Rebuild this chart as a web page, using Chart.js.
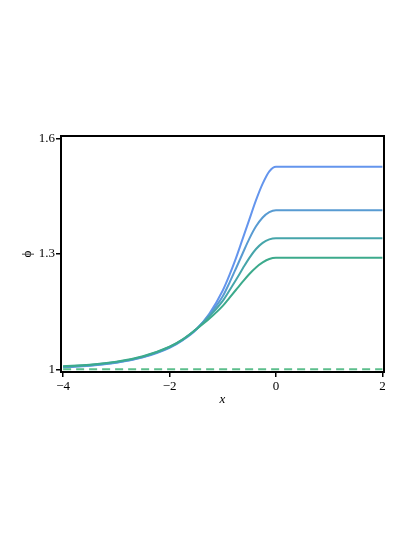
<!DOCTYPE html>
<html lang="en">
<head>
    <meta charset="UTF-8">
    <title>phi(x)</title>
    <script src="https://cdn.jsdelivr.net/npm/chart.js"></script>
    <style>
        body { margin: 0; background: #fff; }
        canvas { display: block; }
    </style>
</head>
<body>
    <canvas id="phiChart" width="415" height="537"></canvas>

    <script>
        const xs = [-4, -3.5, -3, -2.5, -2, -1.75, -1.5, -1.25, -1, -0.875, -0.75, -0.625, -0.5, -0.375, -0.25, -0.125, 0, 0.5, 1, 1.5, 2];

        // four solution curves, top to bottom
        const phiA = [1.005, 1.009, 1.017, 1.031, 1.056, 1.076, 1.103, 1.145, 1.205, 1.245, 1.290, 1.340, 1.390, 1.440, 1.483, 1.515, 1.527, 1.527, 1.527, 1.527, 1.527];
        const phiB = [1.006, 1.010, 1.018, 1.032, 1.057, 1.077, 1.104, 1.142, 1.190, 1.225, 1.263, 1.302, 1.340, 1.372, 1.395, 1.409, 1.414, 1.414, 1.414, 1.414, 1.414];
        const phiC = [1.007, 1.011, 1.019, 1.033, 1.058, 1.078, 1.104, 1.138, 1.178, 1.205, 1.233, 1.262, 1.290, 1.313, 1.329, 1.338, 1.341, 1.341, 1.341, 1.341, 1.341];
        const phiD = [1.008, 1.012, 1.020, 1.034, 1.059, 1.078, 1.104, 1.132, 1.165, 1.186, 1.207, 1.228, 1.248, 1.265, 1.278, 1.287, 1.290, 1.290, 1.290, 1.290, 1.290];

        // dashed reference level
        const baseX = [-4, 2];
        const baseY = [1, 1];

        const xTicks = [-4, -2, 0, 2];
        const yTicks = [1, 1.3, 1.6];

        function pts(xv, yv) {
            return xv.map((x, i) => ({ x: x, y: yv[i] }));
        }

        function curve(yv, color) {
            return {
                data: pts(xs, yv),
                borderColor: color,
                borderWidth: 2,
                pointRadius: 0,
                fill: false,
                cubicInterpolationMode: 'monotone'
            };
        }

        // black frame round the plot area
        const frame = {
            id: 'frame',
            afterDraw(chart) {
                const a = chart.chartArea;
                const ctx = chart.ctx;
                ctx.save();
                ctx.strokeStyle = '#000';
                ctx.lineWidth = 2;
                ctx.strokeRect(a.left, a.top, a.right - a.left, a.bottom - a.top);
                ctx.restore();
            }
        };

        const serif = "'Liberation Serif', 'DejaVu Serif', serif";

        new Chart(document.getElementById('phiChart').getContext('2d'), {
            type: 'line',
            data: {
                datasets: [
                    {
                        data: pts(baseX, baseY),
                        borderColor: 'rgb(92,190,140)',
                        borderWidth: 2,
                        borderDash: [8, 5],
                        pointRadius: 0,
                        fill: false
                    },
                    curve(phiD, 'rgb(60,170,140)'),
                    curve(phiC, 'rgb(70,165,170)'),
                    curve(phiB, 'rgb(88,155,210)'),
                    curve(phiA, 'rgb(100,149,237)')
                ]
            },
            options: {
                responsive: false,
                animation: false,
                layout: { padding: { left: 0, top: 136, right: 31, bottom: 127 } },
                plugins: { legend: { display: false }, tooltip: { enabled: false } },
                scales: {
                    x: {
                        type: 'linear',
                        min: -4.04,
                        max: 2.03,
                        afterBuildTicks: s => { s.ticks = xTicks.map(v => ({ value: v })); },
                        afterFit: s => { s.height = 38; },
                        border: { display: false },
                        grid: { drawOnChartArea: false, tickLength: 5, color: '#000', lineWidth: 1.5 },
                        ticks: {
                            color: '#000',
                            padding: 2,
                            font: { family: serif, size: 13 },
                            callback: v => v < 0 ? '\u2212' + Math.abs(v) : String(v)
                        },
                        title: {
                            display: true,
                            text: 'x',
                            color: '#000',
                            padding: { top: 0, bottom: 3 },
                            font: { family: serif, size: 13, style: 'italic' }
                        }
                    },
                    y: {
                        min: 0.993,
                        max: 1.607,
                        afterBuildTicks: s => { s.ticks = yTicks.map(v => ({ value: v })); },
                        afterFit: s => { s.width = 61; },
                        border: { display: false },
                        grid: { drawOnChartArea: false, tickLength: 5, color: '#000', lineWidth: 1.5 },
                        ticks: {
                            color: '#000',
                            padding: 1,
                            font: { family: serif, size: 13 },
                            callback: v => String(v)
                        },
                        title: {
                            display: true,
                            text: '\u03D5',
                            color: '#000',
                            padding: { top: 20, bottom: 0 },
                            font: { family: serif, size: 13 }
                        }
                    }
                }
            },
            plugins: [frame]
        });
    </script>
</body>
</html>
